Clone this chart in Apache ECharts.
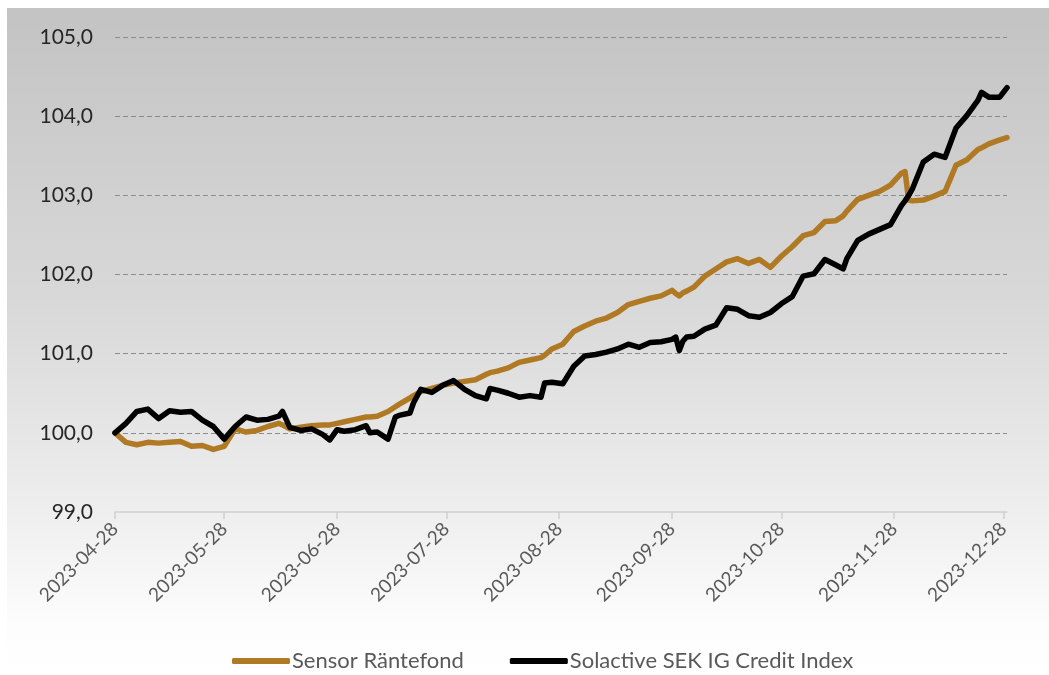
<!DOCTYPE html>
<html>
<head>
<meta charset="utf-8">
<title>Sensor Räntefond vs Solactive SEK IG Credit Index</title>
<script src="https://cdn.jsdelivr.net/npm/echarts@6/dist/echarts.min.js"></script>
<style>
  html, body { margin: 0; padding: 0; background: #fff; }
  #chart { width: 1049px; height: 675px; }
</style>
</head>
<body>
<div id="chart"></div>
<script>
// Series names shown in the legend
const seriesNames = ['Sensor Räntefond', 'Solactive SEK IG Credit Index'];

// Axis range (calendar days) and value scale
const firstDay = '2023-04-28';
const lastDay = '2023-12-29';
const yMin = 99, yMax = 105, yStep = 1;

// Observation dates
const dates = [
  '2023-04-28','2023-05-01','2023-05-04','2023-05-07','2023-05-10','2023-05-13','2023-05-16','2023-05-19','2023-05-22','2023-05-25',
  '2023-05-28','2023-05-31','2023-06-03','2023-06-06','2023-06-09','2023-06-12','2023-06-13','2023-06-15','2023-06-18','2023-06-21',
  '2023-06-24','2023-06-26','2023-06-28','2023-06-30','2023-07-03','2023-07-06','2023-07-07','2023-07-09','2023-07-12','2023-07-14',
  '2023-07-15','2023-07-18','2023-07-19','2023-07-21','2023-07-24','2023-07-27','2023-07-30','2023-08-02','2023-08-05','2023-08-08',
  '2023-08-09','2023-08-11','2023-08-14','2023-08-17','2023-08-20','2023-08-23','2023-08-24','2023-08-26','2023-08-29','2023-09-01',
  '2023-09-04','2023-09-07','2023-09-10','2023-09-13','2023-09-16','2023-09-19','2023-09-22','2023-09-25','2023-09-28','2023-09-29',
  '2023-09-30','2023-10-01','2023-10-02','2023-10-04','2023-10-07','2023-10-10','2023-10-13','2023-10-16','2023-10-19','2023-10-22',
  '2023-10-25','2023-10-28','2023-10-31','2023-11-03','2023-11-06','2023-11-09','2023-11-12','2023-11-14','2023-11-15','2023-11-18',
  '2023-11-21','2023-11-24','2023-11-27','2023-11-30','2023-12-01','2023-12-02','2023-12-03','2023-12-06','2023-12-09','2023-12-12',
  '2023-12-15','2023-12-18','2023-12-21','2023-12-22','2023-12-24','2023-12-27','2023-12-29'
];

// Sensor Räntefond, indexed to 100
const sensorValues = [
  100.00, 99.88, 99.85, 99.88, 99.87, 99.88, 99.89, 99.83, 99.84, 99.79,
  99.83, 100.05, 100.01, 100.03, 100.08, 100.12, 100.10, 100.05, 100.07, 100.09,
  100.10, 100.10, 100.12, 100.14, 100.17, 100.20, 100.20, 100.21, 100.27, 100.33,
  100.36, 100.44, 100.47, 100.52, 100.56, 100.60, 100.63, 100.65, 100.67, 100.74,
  100.76, 100.78, 100.82, 100.89, 100.92, 100.95, 100.98, 101.06, 101.12, 101.28,
  101.35, 101.41, 101.45, 101.52, 101.62, 101.66, 101.70, 101.73, 101.80, 101.76,
  101.73, 101.77, 101.79, 101.84, 101.98, 102.07, 102.16, 102.20, 102.14, 102.19,
  102.09, 102.23, 102.35, 102.49, 102.53, 102.67, 102.68, 102.74, 102.80, 102.95,
  103.00, 103.05, 103.13, 103.28, 103.30, 102.94, 102.93, 102.94, 102.99, 103.05,
  103.38, 103.45, 103.58, 103.60, 103.65, 103.70, 103.73
];

// Solactive SEK IG Credit Index, indexed to 100
const solactiveValues = [
  100.00, 100.12, 100.27, 100.30, 100.18, 100.28, 100.26, 100.27, 100.16, 100.08,
  99.92, 100.08, 100.20, 100.16, 100.17, 100.21, 100.27, 100.07, 100.03, 100.05,
  99.98, 99.91, 100.04, 100.02, 100.04, 100.09, 100.00, 100.01, 99.92, 100.20,
  100.22, 100.25, 100.38, 100.55, 100.51, 100.60, 100.66, 100.55, 100.47, 100.43,
  100.56, 100.54, 100.50, 100.45, 100.47, 100.45, 100.63, 100.64, 100.62, 100.84,
  100.97, 100.99, 101.02, 101.06, 101.12, 101.08, 101.14, 101.15, 101.18, 101.21,
  101.04, 101.16, 101.21, 101.22, 101.31, 101.36, 101.58, 101.56, 101.48, 101.46,
  101.52, 101.63, 101.72, 101.98, 102.01, 102.19, 102.12, 102.07, 102.20, 102.43,
  102.51, 102.57, 102.63, 102.87, 102.93, 103.00, 103.08, 103.42, 103.52, 103.48,
  103.85, 104.01, 104.20, 104.30, 104.24, 104.24, 104.36
];

// Every calendar day on the horizontal axis, so months keep their true width
function calendarDays(from, to) {
  const out = [];
  const d = new Date(from + 'T00:00:00Z');
  const end = new Date(to + 'T00:00:00Z');
  while (d <= end) {
    out.push(d.toISOString().slice(0, 10));
    d.setUTCDate(d.getUTCDate() + 1);
  }
  return out;
}
const axisDays = calendarDays(firstDay, lastDay);
const isMonthMark = (idx, val) => val.slice(8) === '28';

const chart = echarts.init(document.getElementById('chart'), null, { renderer: 'canvas' });

const option = {
  backgroundColor: '#ffffff',
  animation: false,
  textStyle: { fontFamily: 'Lato, "Open Sans", sans-serif' },
  graphic: [{
    type: 'rect',
    z: -10,
    silent: true,
    shape: { x: 7, y: 8, width: 1042, height: 667 },
    style: {
      fill: new echarts.graphic.LinearGradient(0, 0, 0, 1, [
        { offset: 0, color: '#c3c3c3' },
        { offset: 0.45, color: '#d9d9d9' },
        { offset: 0.75, color: '#eeeeee' },
        { offset: 0.92, color: '#fcfcfc' },
        { offset: 1, color: '#ffffff' }
      ])
    }
  }],
  grid: { left: 115, right: 42, top: 37, bottom: 163, containLabel: false },
  legend: {
    bottom: -2,
    left: 227,
    icon: 'roundRect',
    itemWidth: 58,
    itemHeight: 6,
    itemGap: 46,
    textStyle: { fontSize: 22, color: '#595959', padding: [0, 0, 0, -3] },
    data: seriesNames
  },
  xAxis: {
    type: 'category',
    data: axisDays,
    boundaryGap: false,
    axisLine: { show: true, onZero: false, lineStyle: { color: '#cfcfcf', width: 1.5 } },
    axisTick: { show: true, interval: isMonthMark, length: 7, lineStyle: { color: '#cfcfcf', width: 1.5 } },
    axisLabel: {
      interval: isMonthMark,
      rotate: 45,
      margin: 14,
      fontSize: 19,
      color: '#595959'
    },
    splitLine: { show: false }
  },
  yAxis: {
    type: 'value',
    min: yMin,
    max: yMax,
    interval: yStep,
    axisLine: { show: false },
    axisTick: { show: false },
    axisLabel: {
      margin: 22,
      fontSize: 21,
      color: '#262626',
      formatter: v => v.toFixed(1).replace('.', ',')
    },
    splitLine: {
      show: true,
      showMinLine: false,
      lineStyle: { color: '#8c8c8c', type: [5, 3], width: 1 }
    }
  },
  series: [
    {
      name: seriesNames[0],
      type: 'line',
      showSymbol: false,
      symbol: 'none',
      smooth: false,
      color: '#b07a24',
      lineStyle: { width: 5.5, color: '#b07a24', join: 'round', cap: 'round' },
      data: dates.map((d, i) => [d, sensorValues[i]])
    },
    {
      name: seriesNames[1],
      type: 'line',
      showSymbol: false,
      symbol: 'none',
      smooth: false,
      color: '#000000',
      lineStyle: { width: 5.5, color: '#000000', join: 'round', cap: 'round' },
      data: dates.map((d, i) => [d, solactiveValues[i]])
    }
  ]
};

chart.setOption(option);
</script>
</body>
</html>
